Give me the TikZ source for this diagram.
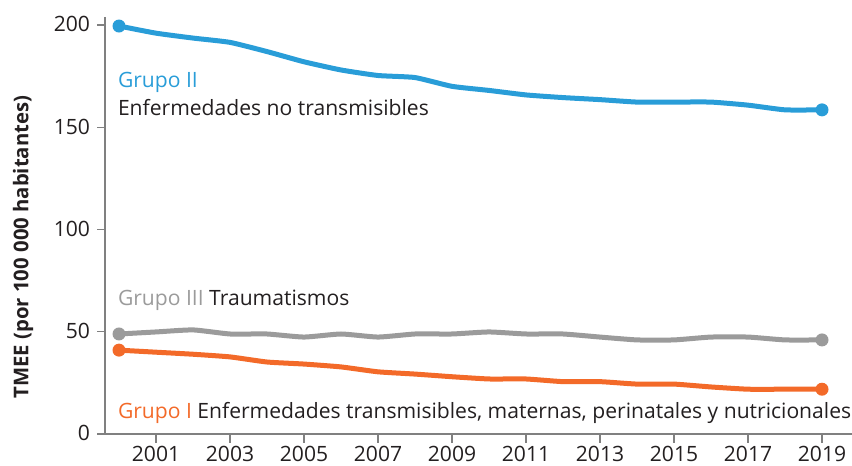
\documentclass[tikz,border=0pt]{standalone}
\usepackage{fontspec}
\setmainfont{Open Sans}
\definecolor{gblue}{RGB}{41,157,216}
\definecolor{gorange}{RGB}{243,106,41}
\definecolor{ggrey}{RGB}{155,155,155}
\definecolor{txt}{RGB}{35,31,32}
\definecolor{axisc}{RGB}{128,128,128}
\begin{document}
\begin{tikzpicture}[x=1bp,y=1bp,
  every node/.style={inner sep=0pt,outer sep=0pt,text=txt,font=\fontsize{21.1bp}{24bp}\selectfont},
  axisline/.style={draw=axisc,line width=1.3bp},
  series/.style={line width=5bp,line join=round,line cap=round,smooth,tension=0.3},
  enddot/.style={circle,minimum size=13bp,fill=#1},
  ylab/.style={anchor=base east},
  xlab/.style={anchor=base}]
\useasboundingbox (0,0) rectangle (852,466);
% axes
\draw[axisline] (105,449) -- (105,32) -- (852,32);
\foreach \v/\t in {0/0,50/50,100/100,150/150,200/200}{
  \draw[axisline] (97,32+2.045*\v) -- (105,32+2.045*\v);
  \node[ylab] (yl\v) at (90,32+2.045*\v-7) {\t};
}
\foreach \k/\yr in {1/2001,3/2003,5/2005,7/2007,9/2009,11/2011,13/2013,15/2015,17/2017,19/2019}{
  \draw[axisline] (119+37*\k,32) -- (119+37*\k,23);
  \node[xlab] (xl\yr) at (119+37*\k,4) {\yr};
}
\node[rotate=90,font=\fontsize{20.3bp}{24bp}\selectfont\bfseries] (ytitle) at (23,219) {TMEE (por 100 000 habitantes)};
% data
\begin{scope}[shift={(119bp,32bp)},x=37bp,y=2.045bp]
\draw[series,draw=gblue] plot coordinates {(0,199.5)(1,196)(2,193.6)(3,191.5)(4,187)(5,182)(6,178)(7,175.3)(8,174.3)(9,170)(10,168)(11,165.8)(12,164.5)(13,163.5)(14,162.3)(15,162.3)(16,162.3)(17,160.8)(18,158.5)(19,158.5)};
\draw[series,draw=ggrey] plot coordinates {(0,48.9)(1,49.9)(2,50.9)(3,48.9)(4,48.9)(5,47.4)(6,48.9)(7,47.4)(8,48.9)(9,48.9)(10,49.9)(11,48.9)(12,48.9)(13,47.4)(14,46)(15,46)(16,47.4)(17,47.4)(18,46)(19,46)};
\draw[series,draw=gorange] plot coordinates {(0,41)(1,40)(2,39)(3,37.7)(4,35.2)(5,34.2)(6,32.8)(7,30.4)(8,29.3)(9,28)(10,26.9)(11,26.9)(12,25.6)(13,25.6)(14,24.4)(15,24.4)(16,23)(17,21.9)(18,21.9)(19,21.9)};
\node[enddot=gblue] (b0) at (0,199.5) {};
\node[enddot=gblue] (b19) at (19,158.5) {};
\node[enddot=ggrey] (g0) at (0,48.9) {};
\node[enddot=ggrey] (g19) at (19,46) {};
\node[enddot=gorange] (o0) at (0,41) {};
\node[enddot=gorange] (o19) at (19,21.9) {};
\end{scope}
% labels
\node[anchor=base west,text=gblue] (g2) at (118,378) {Grupo II};
\node[anchor=base west] (g2t) at (118,350) {Enfermedades no transmisibles};
\node[anchor=base west] (g3) at (118,160) {\textcolor{ggrey}{Grupo III} Traumatismos};
\node[anchor=base west] (g1) at (118,47) {\textcolor{gorange}{Grupo I} Enfermedades transmisibles, maternas, perinatales y nutricionales};
\end{tikzpicture}
\end{document}
